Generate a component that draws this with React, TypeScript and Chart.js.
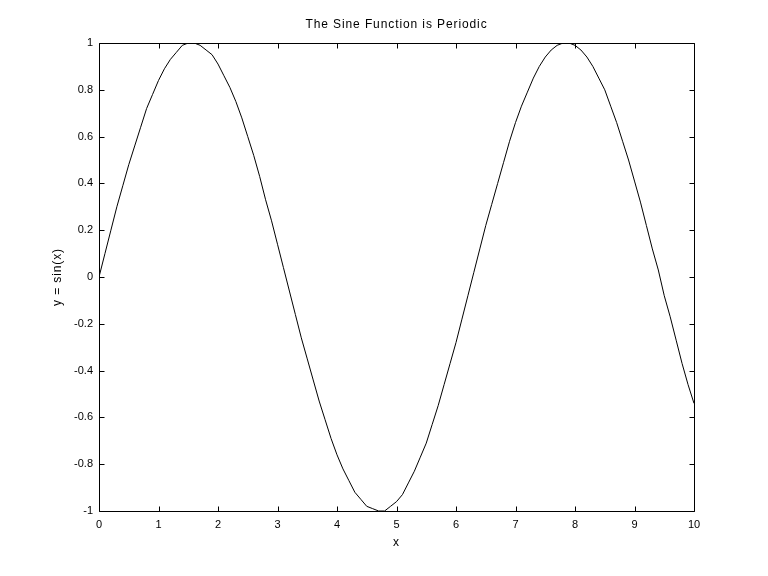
import React, { useEffect, useRef } from "react";
import { Chart, registerables } from "chart.js";

Chart.register(...registerables);

const chartTitle = "The Sine Function is Periodic";
const xAxisTitle = "x";
const yAxisTitle = "y = sin(x)";

const xValues = [
  0, 0.1, 0.2, 0.3, 0.4, 0.5, 0.6, 0.7, 0.8, 0.9,
  1, 1.1, 1.2, 1.3, 1.4, 1.5, 1.6, 1.7, 1.8, 1.9,
  2, 2.1, 2.2, 2.3, 2.4, 2.5, 2.6, 2.7, 2.8, 2.9,
  3, 3.1, 3.2, 3.3, 3.4, 3.5, 3.6, 3.7, 3.8, 3.9,
  4, 4.1, 4.2, 4.3, 4.4, 4.5, 4.6, 4.7, 4.8, 4.9,
  5, 5.1, 5.2, 5.3, 5.4, 5.5, 5.6, 5.7, 5.8, 5.9,
  6, 6.1, 6.2, 6.3, 6.4, 6.5, 6.6, 6.7, 6.8, 6.9,
  7, 7.1, 7.2, 7.3, 7.4, 7.5, 7.6, 7.7, 7.8, 7.9,
  8, 8.1, 8.2, 8.3, 8.4, 8.5, 8.6, 8.7, 8.8, 8.9,
  9, 9.1, 9.2, 9.3, 9.4, 9.5, 9.6, 9.7, 9.8, 9.9,
  10,
];

const yValues = [
  0, 0.1, 0.2, 0.3, 0.39, 0.48, 0.56, 0.64, 0.72, 0.78,
  0.84, 0.89, 0.93, 0.96, 0.99, 1.0, 1.0, 0.99, 0.97, 0.95,
  0.91, 0.86, 0.81, 0.75, 0.68, 0.6, 0.52, 0.43, 0.33, 0.24,
  0.14, 0.04, -0.06, -0.16, -0.26, -0.35, -0.44, -0.53, -0.61, -0.69,
  -0.76, -0.82, -0.87, -0.92, -0.95, -0.98, -0.99, -1.0, -1.0, -0.98,
  -0.96, -0.93, -0.88, -0.83, -0.77, -0.71, -0.63, -0.55, -0.46, -0.37,
  -0.28, -0.18, -0.08, 0.02, 0.12, 0.22, 0.31, 0.4, 0.49, 0.58,
  0.66, 0.73, 0.79, 0.85, 0.9, 0.94, 0.97, 0.99, 1.0, 1.0,
  0.99, 0.97, 0.94, 0.9, 0.85, 0.8, 0.73, 0.66, 0.58, 0.5,
  0.41, 0.32, 0.22, 0.12, 0.03, -0.08, -0.17, -0.27, -0.37, -0.46,
  -0.54,
];

const FONT = "Arial, 'Liberation Sans', sans-serif";

const boxPlugin = {
  id: "matlabBox",
  afterDraw(chart: any) {
    const { ctx, chartArea, scales } = chart;
    const { left, right, top, bottom } = chartArea;
    const xs = scales.x;
    const ys = scales.y;
    const L = Math.round(left) + 0.5;
    const R = Math.round(right) + 0.5;
    const T = Math.round(top) + 0.5;
    const B = Math.round(bottom) + 0.5;
    const tl = 5;
    ctx.save();
    ctx.strokeStyle = "#000";
    ctx.lineWidth = 1;
    ctx.beginPath();
    ctx.rect(L, T, R - L, B - T);
    xs.ticks.forEach((t: any) => {
      const px = Math.round(xs.getPixelForValue(t.value)) + 0.5;
      ctx.moveTo(px, B);
      ctx.lineTo(px, B - tl);
      ctx.moveTo(px, T);
      ctx.lineTo(px, T + tl);
    });
    ys.ticks.forEach((t: any) => {
      const py = Math.round(ys.getPixelForValue(t.value)) + 0.5;
      ctx.moveTo(L, py);
      ctx.lineTo(L + tl, py);
      ctx.moveTo(R, py);
      ctx.lineTo(R - tl, py);
    });
    ctx.stroke();

    ctx.fillStyle = "#000";
    ctx.font = `12px ${FONT}`;
    (ctx as any).letterSpacing = "0.9px";
    ctx.textAlign = "center";
    ctx.textBaseline = "middle";
    const cx = (left + right) / 2;
    ctx.fillText(chartTitle, cx, top - 18);
    ctx.fillText(xAxisTitle, cx, bottom + 32);
    ctx.translate(left - 41, (top + bottom) / 2);
    ctx.rotate(-Math.PI / 2);
    ctx.fillText(yAxisTitle, 0, 0);
    (ctx as any).letterSpacing = "0px";
    ctx.restore();
  },
};

export default function App() {
  const canvasRef = useRef<HTMLCanvasElement | null>(null);

  useEffect(() => {
    if (!canvasRef.current) return;
    const chart = new Chart(canvasRef.current, {
      type: "line",
      data: {
        datasets: [
          {
            data: xValues.map((x, i) => ({ x, y: yValues[i] })),
            borderColor: "#000",
            borderWidth: 1,
            pointRadius: 0,
            tension: 0,
            fill: false,
          },
        ],
      },
      options: {
        animation: false,
        responsive: true,
        maintainAspectRatio: false,
        layout: { padding: { top: 43, right: 74, left: 0, bottom: 0 } },
        plugins: {
          legend: { display: false },
          title: { display: false },
          tooltip: { enabled: false },
        },
        scales: {
          x: {
            type: "linear",
            min: 0,
            max: 10,
            grid: { display: false, drawTicks: false },
            border: { display: false },
            ticks: {
              stepSize: 1,
              autoSkip: false,
              maxRotation: 0,
              padding: 7,
              color: "#000",
              font: { family: FONT, size: 11 },
            },
            afterFit: (s: any) => {
              s.height = 65;
            },
          },
          y: {
            type: "linear",
            min: -1,
            max: 1,
            grid: { display: false, drawTicks: false },
            border: { display: false },
            ticks: {
              stepSize: 0.2,
              autoSkip: false,
              padding: 6,
              color: "#000",
              font: { family: FONT, size: 11 },
              callback: (v: any) => String(Number(Number(v).toFixed(1))),
            },
            afterFit: (s: any) => {
              s.width = 99;
            },
          },
        },
      },
      plugins: [boxPlugin],
    });
    return () => chart.destroy();
  }, []);

  return (
    <div
      style={{
        position: "fixed",
        left: 0,
        top: 0,
        width: 768,
        height: 576,
        background: "#fff",
      }}
    >
      <canvas ref={canvasRef} />
    </div>
  );
}
